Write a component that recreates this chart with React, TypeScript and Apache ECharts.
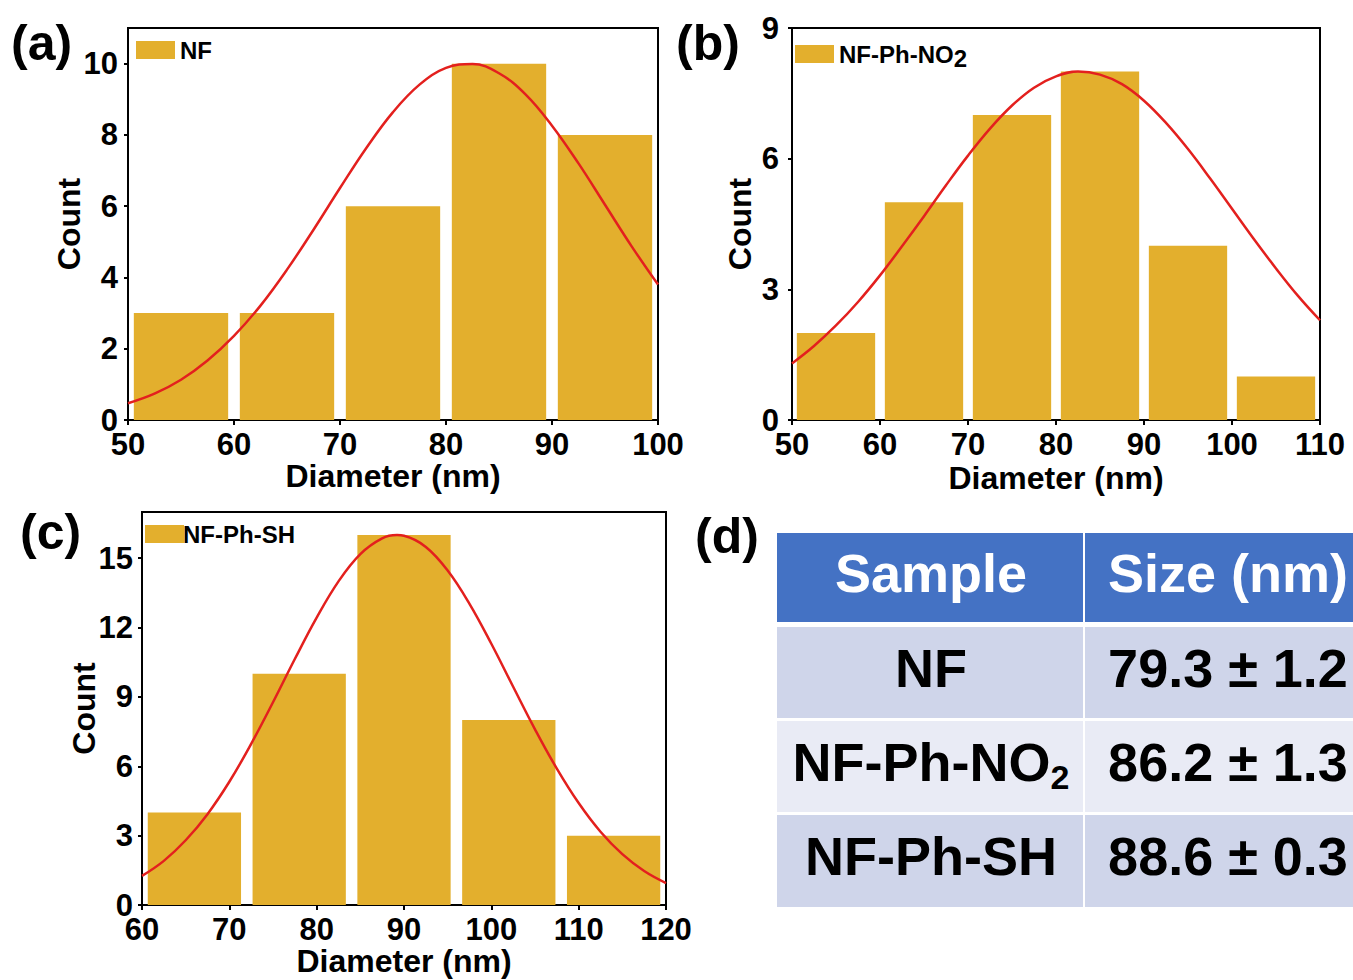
import React, { useEffect, useRef } from 'react';
import * as echarts from 'echarts';

// ---------- data ----------
const aEdges = [50, 60, 70, 80, 90, 100];
const aCounts = [3, 3, 6, 10, 8];
const aFitX = [50, 52.5, 55, 57.5, 60, 62.5, 65, 67.5, 70, 72.5, 75, 77.5, 80, 82.5, 85, 87.5, 90, 92.5, 95, 97.5, 100];
const aFitY = [0.47, 0.74, 1.13, 1.67, 2.36, 3.21, 4.22, 5.34, 6.51, 7.64, 8.64, 9.41, 9.88, 9.99, 9.73, 9.14, 8.26, 7.2, 6.04, 4.88, 3.8];
const aXTicks = [50, 60, 70, 80, 90, 100];
const aYTicks = [0, 2, 4, 6, 8, 10];

const bEdges = [50, 60, 70, 80, 90, 100, 110];
const bCounts = [2, 5, 7, 8, 4, 1];
const bFitX = [50, 52.5, 55, 57.5, 60, 62.5, 65, 67.5, 70, 72.5, 75, 77.5, 80, 82.5, 85, 87.5, 90, 92.5, 95, 97.5, 100, 102.5, 105, 107.5, 110];
const bFitY = [1.3, 1.7, 2.17, 2.71, 3.32, 3.99, 4.68, 5.39, 6.07, 6.69, 7.22, 7.63, 7.89, 8.0, 7.93, 7.71, 7.33, 6.82, 6.22, 5.55, 4.85, 4.15, 3.48, 2.85, 2.29];
const bXTicks = [50, 60, 70, 80, 90, 100, 110];
const bYTicks = [0, 3, 6, 9];

const cEdges = [60, 72, 84, 96, 108, 120];
const cCounts = [4, 10, 16, 8, 3];
const cFitX = [60, 62.5, 65, 67.5, 70, 72.5, 75, 77.5, 80, 82.5, 85, 87.5, 89.2, 90, 92.5, 95, 97.5, 100, 102.5, 105, 107.5, 110, 112.5, 115, 117.5, 120];
const cFitY = [1.26, 1.91, 2.8, 3.93, 5.33, 6.97, 8.77, 10.64, 12.43, 14.0, 15.18, 15.86, 16.0, 15.97, 15.49, 14.47, 13.03, 11.3, 9.44, 7.6, 5.9, 4.41, 3.17, 2.2, 1.47, 0.95];
const cXTicks = [60, 70, 80, 90, 100, 110, 120];
const cYTicks = [0, 3, 6, 9, 12, 15];

const seriesNames = ['NF', 'NF-Ph-NO2', 'NF-Ph-SH'];
const panelLabels = ['(a)', '(b)', '(c)', '(d)'];
const xTitle = 'Diameter (nm)';
const yTitle = 'Count';

const tableHeader = ['Sample', 'Size (nm)'];
const tableSamples = ['NF', 'NF-Ph-NO2', 'NF-Ph-SH'];
const tableSizes = ['79.3 ± 1.2', '86.2 ± 1.3', '88.6 ± 0.3'];

// ---------- style ----------
const FONT = '"Liberation Sans", Arial, Helvetica, sans-serif';
const BAR = '#E3AF2D';
const RED = '#E3201E';
const HEAD = '#4472C4';
const ROW_DARK = '#CFD5EA';
const ROW_LIGHT = '#E9EBF5';

const panels = [
  { edges: aEdges, counts: aCounts, fx: aFitX, fy: aFitY, xt: aXTicks, yt: aYTicks, xmin: 50, xmax: 100, ymax: 11,
    grid: { left: 128, top: 28, width: 530, height: 392 }, yGap: 43, xGap: 43, yMargin: 10,
    legend: { left: 136, top: 38 }, legendPad: 0 },
  { edges: bEdges, counts: bCounts, fx: bFitX, fy: bFitY, xt: bXTicks, yt: bYTicks, xmin: 50, xmax: 110, ymax: 9,
    grid: { left: 792, top: 28, width: 528, height: 392 }, yGap: 36, xGap: 45, yMargin: 13,
    legend: { left: 795, top: 42 }, legendPad: 0 },
  { edges: cEdges, counts: cCounts, fx: cFitX, fy: cFitY, xt: cXTicks, yt: cYTicks, xmin: 60, xmax: 120, ymax: 17,
    grid: { left: 142, top: 512, width: 524, height: 393 }, yGap: 42, xGap: 43, yMargin: 9,
    legend: { left: 145, top: 522 }, legendPad: -6 },
];

function buildOption() {
  const grid: any[] = [];
  const xAxis: any[] = [];
  const yAxis: any[] = [];
  const series: any[] = [];
  const legend: any[] = [];

  panels.forEach((p, i) => {
    grid.push({ ...p.grid, show: true, borderColor: '#000', borderWidth: 2, containLabel: false });
    xAxis.push({
      type: 'value', gridIndex: i, min: p.xmin, max: p.xmax,
      axisLine: { show: true, onZero: false, lineStyle: { color: '#000', width: 2 } },
      axisTick: { show: true, length: 5, lineStyle: { color: '#000', width: 2 }, customValues: p.xt },
      axisLabel: { customValues: p.xt, color: '#000', fontSize: 31, lineHeight: 22, fontWeight: 'bold', fontFamily: FONT, margin: 13 },
      splitLine: { show: false },
      name: xTitle, nameLocation: 'middle', nameGap: p.xGap, nameMoveOverlap: false,
      nameTextStyle: { color: '#000', fontSize: 32, lineHeight: 26, fontWeight: 'bold', fontFamily: FONT },
    });
    yAxis.push({
      type: 'value', gridIndex: i, min: 0, max: p.ymax,
      axisLine: { show: true, onZero: false, lineStyle: { color: '#000', width: 2 } },
      axisTick: { show: true, length: 4, lineStyle: { color: '#000', width: 2 }, customValues: p.yt },
      axisLabel: { customValues: p.yt, color: '#000', fontSize: 31, lineHeight: 22, fontWeight: 'bold', fontFamily: FONT, margin: p.yMargin },
      splitLine: { show: false },
      name: yTitle, nameLocation: 'middle', nameGap: p.yGap, nameMoveOverlap: false,
      nameTextStyle: { color: '#000', fontSize: 32, fontWeight: 'bold', fontFamily: FONT },
    });
    const binData = p.counts.map((c, k) => [p.edges[k], p.edges[k + 1], c]);
    series.push({
      type: 'custom', name: seriesNames[i], xAxisIndex: i, yAxisIndex: i,
      data: binData, encode: { x: [0, 1], y: 2 },
      itemStyle: { color: BAR },
      z: 2,
      renderItem: (params: any, api: any) => {
        const x0 = api.value(0);
        const x1 = api.value(1);
        const v = api.value(2);
        const pad = (x1 - x0) * 0.055;
        const p0 = api.coord([x0 + pad, v]);
        const p1 = api.coord([x1 - pad, 0]);
        return {
          type: 'rect',
          shape: { x: p0[0], y: p0[1], width: p1[0] - p0[0], height: p1[1] - p0[1] },
          style: { fill: BAR },
        };
      },
    });
    series.push({
      type: 'line', name: seriesNames[i] + ' fit', xAxisIndex: i, yAxisIndex: i,
      data: p.fx.map((x, k) => [x, p.fy[k]]),
      smooth: 0.4, symbol: 'none', showSymbol: false,
      lineStyle: { color: RED, width: 2.5 }, z: 5,
    });
    legend.push({
      data: [seriesNames[i]], left: p.legend.left, top: p.legend.top, padding: 0,
      icon: 'rect', itemWidth: 39, itemHeight: 18, selectedMode: false,
      formatter: (name: string) => (name === 'NF-Ph-NO2' ? '{m|NF-Ph-NO}{s|2}' : '{m|' + name + '}'),
      textStyle: {
        color: '#000', fontFamily: FONT, fontWeight: 'bold', fontSize: 24,
        rich: {
          m: { color: '#000', fontFamily: FONT, fontWeight: 'bold', fontSize: 24, padding: [0, 0, 0, p.legendPad] },
          s: { color: '#000', fontFamily: FONT, fontWeight: 'bold', fontSize: 24, padding: [8, 0, 0, 0] },
        },
      },
    });
  });

  // ----- graphics: panel labels and table -----
  const labelPos = [
    { x: 11, y: 18 }, { x: 676, y: 18 }, { x: 20, y: 507 }, { x: 695, y: 511 },
  ];
  const graphic: any[] = panelLabels.map((t, i) => ({
    type: 'text', left: labelPos[i].x, top: labelPos[i].y, z: 10,
    style: { text: t, fill: '#000', font: 'bold 50px ' + FONT },
  }));

  const tL = 777, tR = 1353, colX = 1084;
  const rowsY = [
    { y: 533, h: 89, fill: HEAD },
    { y: 627, h: 91, fill: ROW_DARK },
    { y: 721, h: 91, fill: ROW_LIGHT },
    { y: 815, h: 92, fill: ROW_DARK },
  ];
  rowsY.forEach((r) => {
    graphic.push({ type: 'rect', shape: { x: tL, y: r.y, width: tR - tL, height: r.h }, style: { fill: r.fill }, z: 1 });
  });
  graphic.push({ type: 'rect', shape: { x: colX - 1, y: 533, width: 2, height: 374 }, style: { fill: '#ffffff' }, z: 2 });

  const c1 = 931, c2 = 1228;
  const dy = -5;
  const richCell = {
    m: { fontFamily: FONT, fontWeight: 'bold', fontSize: 54, fill: '#000', lineHeight: 62 },
    s: { fontFamily: FONT, fontWeight: 'bold', fontSize: 34, fill: '#000', lineHeight: 62, padding: [30, 0, 0, 0] },
  };
  graphic.push({ type: 'text', x: c1, y: rowsY[0].y + rowsY[0].h / 2 + dy, z: 3,
    style: { text: tableHeader[0], fill: '#fff', font: 'bold 54px ' + FONT, align: 'center', verticalAlign: 'middle' } });
  graphic.push({ type: 'text', x: c2, y: rowsY[0].y + rowsY[0].h / 2 + dy, z: 3,
    style: { text: tableHeader[1], fill: '#fff', font: 'bold 54px ' + FONT, align: 'center', verticalAlign: 'middle' } });
  tableSamples.forEach((s, i) => {
    const r = rowsY[i + 1];
    const txt = s === 'NF-Ph-NO2' ? '{m|NF-Ph-NO}{s|2}' : '{m|' + s + '}';
    graphic.push({ type: 'text', x: c1, y: r.y + r.h / 2 + dy, z: 3,
      style: { text: txt, rich: richCell, align: 'center', verticalAlign: 'middle' } });
    graphic.push({ type: 'text', x: c2, y: r.y + r.h / 2 + dy, z: 3,
      style: { text: tableSizes[i], fill: '#000', font: 'bold 54px ' + FONT, align: 'center', verticalAlign: 'middle' } });
  });

  return {
    animation: false,
    backgroundColor: '#fff',
    grid, xAxis, yAxis, series, legend, graphic,
  };
}

export default function App() {
  const ref = useRef<HTMLDivElement>(null);
  useEffect(() => {
    document.body.style.margin = '0';
    if (!ref.current) return;
    const chart = echarts.init(ref.current, null, { renderer: 'svg' });
    chart.setOption(buildOption() as any);
    return () => chart.dispose();
  }, []);
  return <div ref={ref} style={{ width: 1353, height: 980 }} />;
}
